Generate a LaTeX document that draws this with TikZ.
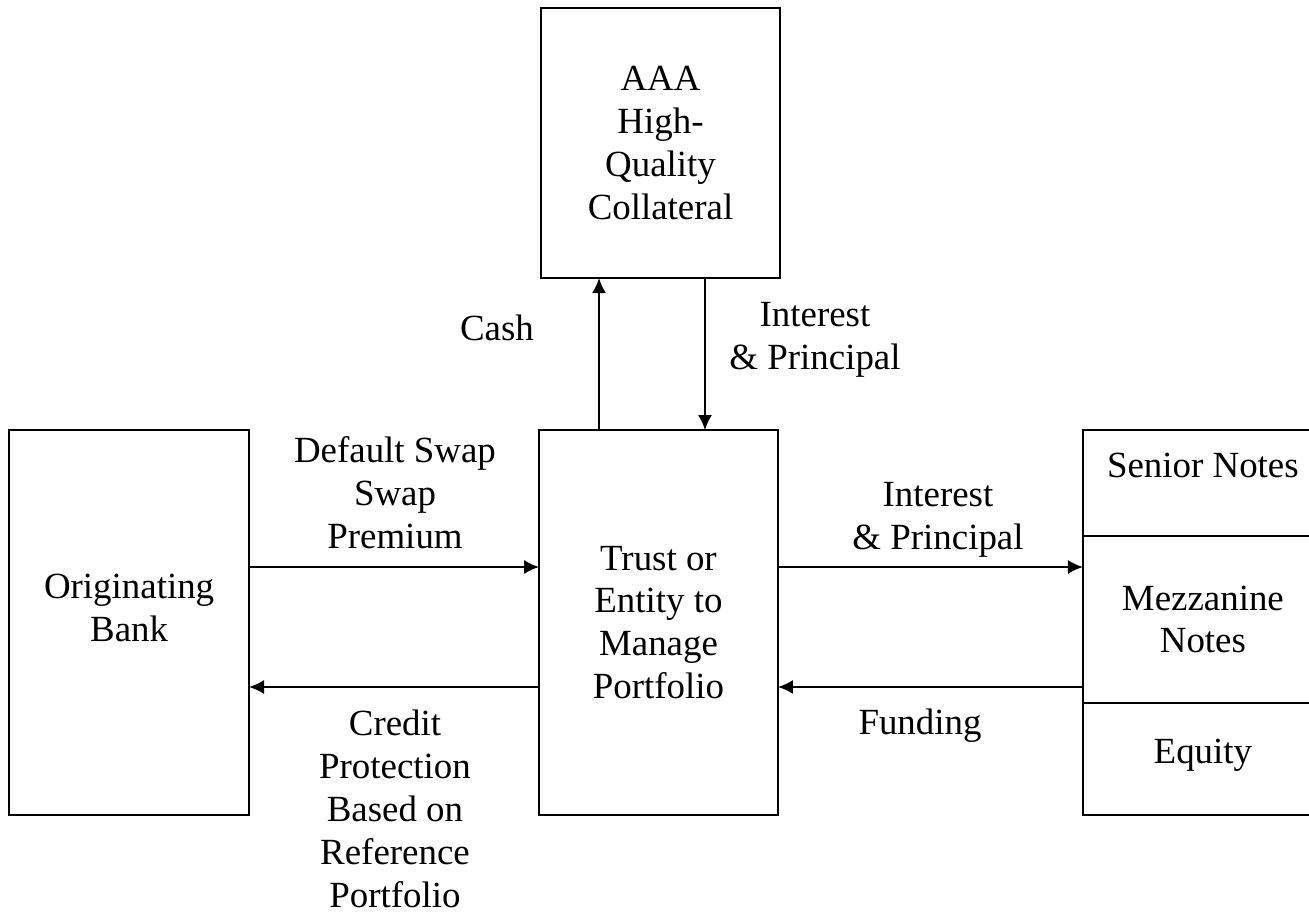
\documentclass[tikz,border=0pt]{standalone}
\usepackage{fontspec}
\setmainfont{Liberation Serif}
\usetikzlibrary{arrows.meta, positioning}
\tikzset{
  % Graph arrow style
  garr/.style={
    line width = 1.1pt
  },
  % plain boxes
  box/.style={
    draw, line width=1.1pt, inner sep=0pt, outer sep=0pt, align=center
  },
}

\begin{document}
\begin{tikzpicture}
          [x=0.02cm, y=-0.02cm,
           >={Latex[length=8.5pt,width=8pt]},
           font=\fontsize{21}{24.4}\selectfont,
           txt/.style={align=center, inner sep=0pt}
          ]
          \useasboundingbox (0,0) rectangle (1309,916);

          \node (trust) [box
                        , minimum width=4.78cm
                        , minimum height=7.7cm
                        ] at (658.5,622.5)
                        {Trust or\\Entity to\\Manage\\Portfolio};
          \node (bank) [box
                       , minimum width=4.8cm
                       , minimum height=7.7cm
                       , text depth=0.58cm
                       , left=5.8cm of trust
                       ]
                       {Originating\\Bank};
          \node (aaa) [box
                      , minimum width=4.78cm
                      , minimum height=5.4cm
                      , above=3.04cm of trust
                      , xshift=0.04cm
                      ]
                      {AAA\\High-\\Quality\\Collateral};

          % tranches on the right (run off the right edge)
          \node (senior) [box
                         , minimum width=4.8cm
                         , minimum height=2.12cm
                         , text depth=0.7cm
                         , right=6.1cm of trust.north east
                         , anchor=north west
                         ]
                         {Senior Notes};
          \node (mezz) [box
                       , minimum width=4.8cm
                       , minimum height=3.34cm
                       , below=0pt of senior
                       ]
                       {Mezzanine\\Notes};
          \node (equity) [box
                         , minimum width=4.8cm
                         , minimum height=2.24cm
                         , text depth=0.3cm
                         , below=0pt of mezz
                         ]
                         {Equity};

          \draw[->,garr] ([yshift=1.11cm]bank.east) -- ([yshift=1.11cm]trust.west);
          \draw[->,garr] ([yshift=-1.29cm]trust.west) -- ([yshift=-1.29cm]bank.east);
          \draw[->,garr] ([xshift=-1.19cm]trust.north) -- ([xshift=-1.19cm]trust.north |- aaa.south);
          \draw[->,garr] ([xshift=0.93cm]trust.north |- aaa.south) -- ([xshift=0.93cm]trust.north);
          \draw[->,garr] ([yshift=1.11cm]trust.east) -- ([yshift=1.11cm]trust.east -| mezz.west);
          \draw[->,garr] ([yshift=-1.29cm]trust.east -| mezz.west) -- ([yshift=-1.29cm]trust.east);

          \node (cash) [txt] at (497,328) {Cash};
          \node (intup) [txt] at (815,340) {Interest\\\& Principal};
          \node (prem) [txt] at (395,493) {Default Swap\\Swap\\Premium};
          \node (prot) [txt] at (395,809) {Credit\\Protection\\Based on\\Reference\\Portfolio};
          \node (intright) [txt] at (938,520) {Interest\\\& Principal};
          \node (fund) [txt] at (920,726) {Funding};
      \end{tikzpicture}
\end{document}
